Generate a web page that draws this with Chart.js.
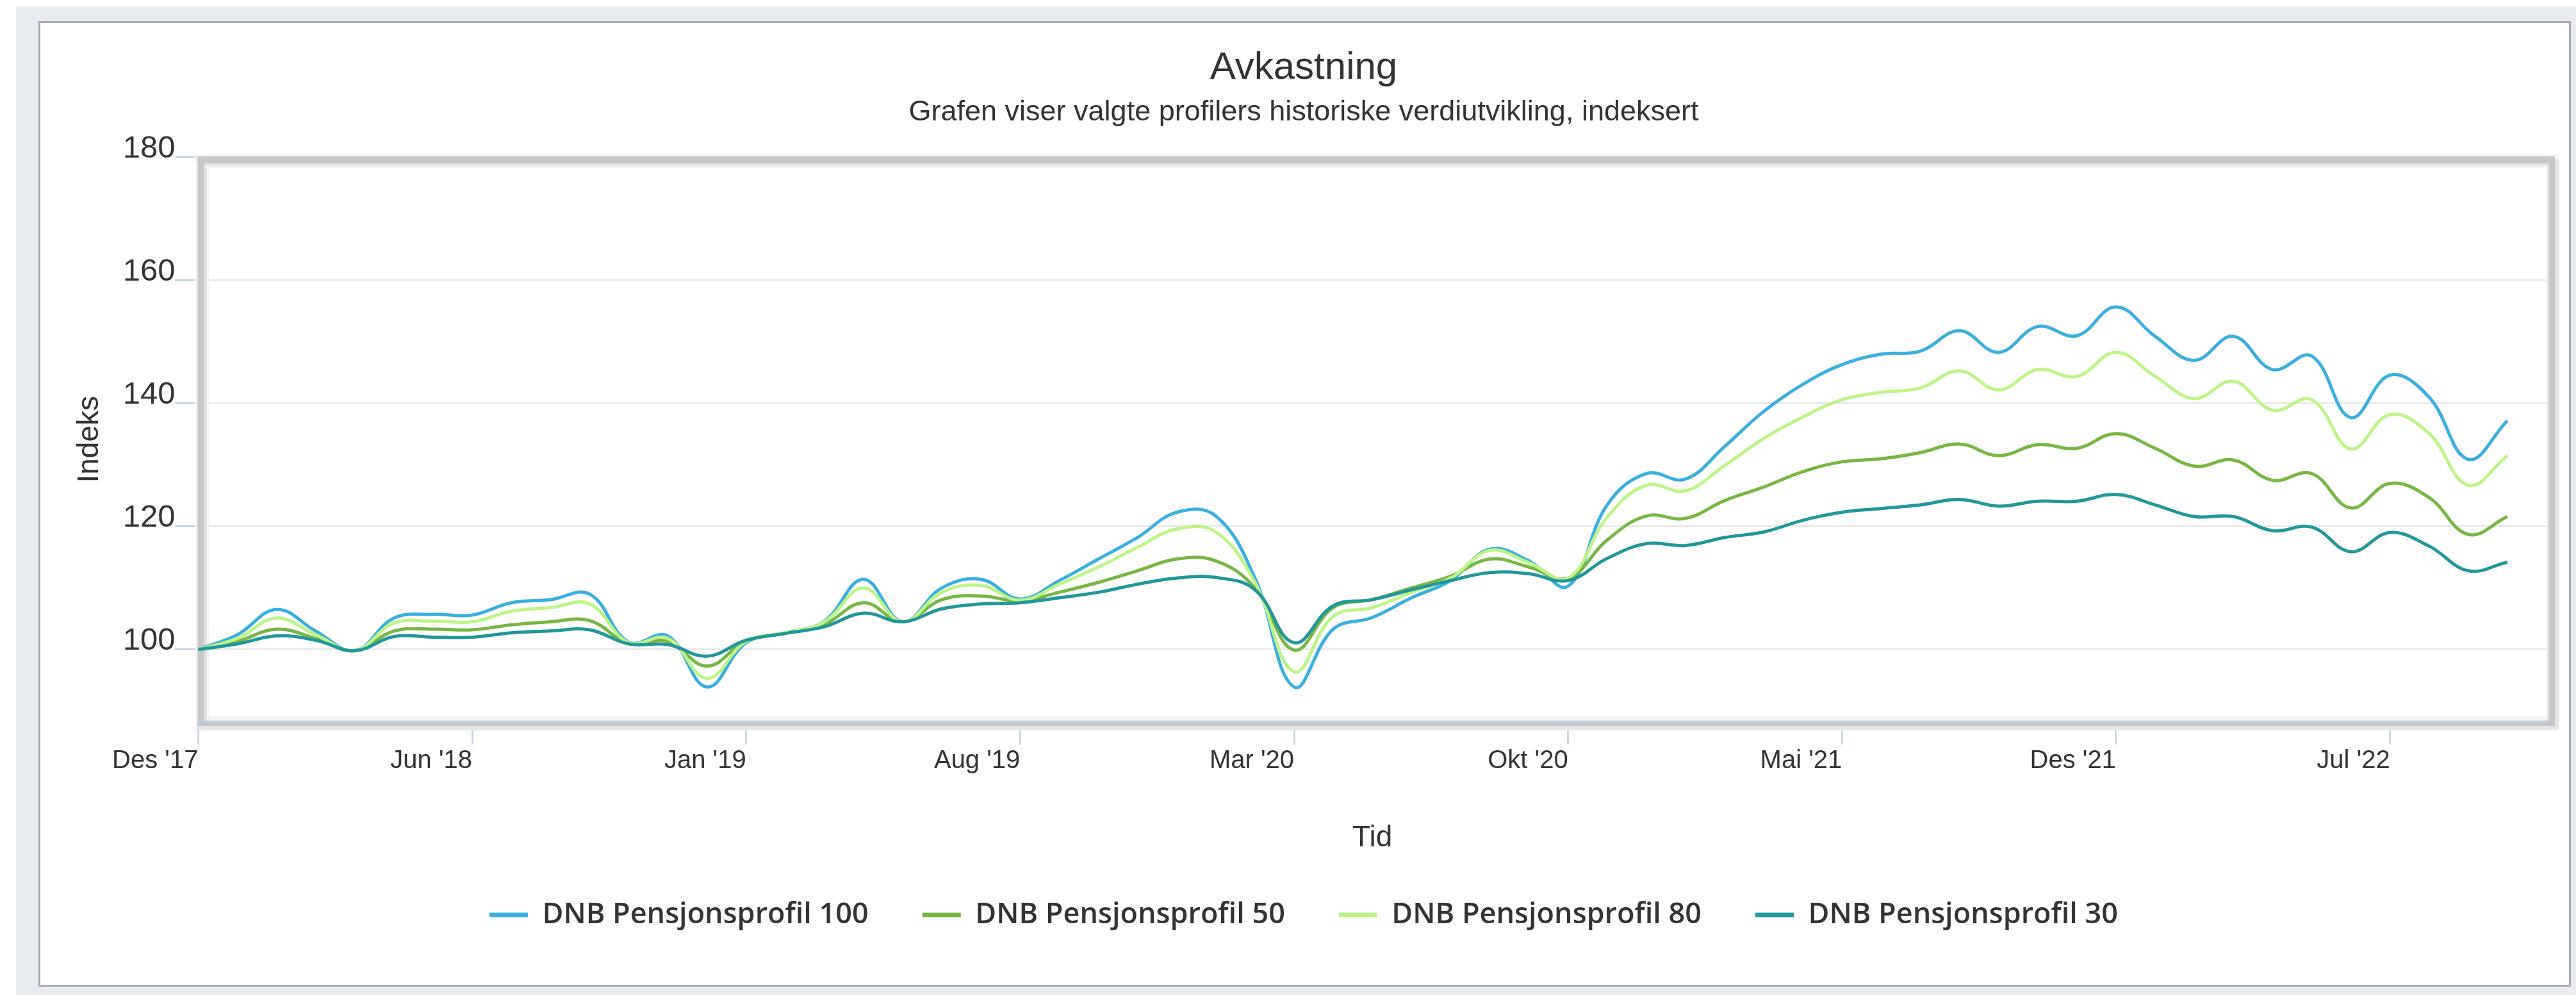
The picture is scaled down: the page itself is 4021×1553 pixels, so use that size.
<!DOCTYPE html>
<html><head><meta charset="utf-8">
<script src="https://cdn.jsdelivr.net/npm/chart.js@4.4.1/dist/chart.umd.min.js"></script>
<style>html,body{margin:0;padding:0;background:#fff;overflow:hidden}canvas{display:block}</style>
</head><body>
<canvas id="c" width="4021" height="1553"></canvas>
<script>
const categories = ["Des '17","Des '17","Jan '18","Feb '18","Mar '18","Apr '18","Mai '18","Jun '18","Jul '18","Aug '18","Sep '18","Okt '18","Nov '18","Des '18",
  "Jan '19","Feb '19","Mar '19","Apr '19","Mai '19","Jun '19","Jul '19","Aug '19","Sep '19","Okt '19","Nov '19","Des '19",
  "Jan '20","Feb '20","Mar '20","Apr '20","Mai '20","Jun '20","Jul '20","Aug '20","Sep '20","Okt '20","Nov '20","Des '20",
  "Jan '21","Feb '21","Mar '21","Apr '21","Mai '21","Jun '21","Jul '21","Aug '21","Sep '21","Okt '21","Nov '21","Des '21",
  "Jan '22","Feb '22","Mar '22","Apr '22","Mai '22","Jun '22","Jul '22","Aug '22","Sep '22","Okt '22","Nov '22"];
const seriesNames = ['DNB Pensjonsprofil 100','DNB Pensjonsprofil 50','DNB Pensjonsprofil 80','DNB Pensjonsprofil 30'];
const seriesColors = ['#3aafdf','#76b743','#bdf487','#22979b'];
const profil100 = [100,102.4,106.5,103.0,99.8,105.1,105.7,105.6,107.6,108.1,
  109.0,101.2,102.2,93.9,101.1,102.7,104.6,111.4,104.5,110.0,
  111.4,108.2,111.2,114.7,118.2,122.3,121.7,111.6,93.9,103.3,
  105.2,108.4,111.2,116.3,114.4,110.3,123.5,128.6,127.7,133.0,
  138.7,143.1,146.3,148.0,148.5,151.8,148.3,152.5,151.0,155.7,
  150.9,147.0,150.9,145.5,147.7,137.7,144.6,141.0,130.9,137.2];
const profil50 = [100,101.3,103.3,101.8,99.8,103.0,103.3,103.2,104.0,104.5,
  104.7,101.0,101.3,97.3,101.4,102.7,104.1,107.6,104.5,108.1,
  108.7,107.9,109.3,110.9,112.8,114.7,114.4,110.0,99.9,106.8,
  108.1,110.0,111.9,114.7,113.4,111.6,117.8,121.7,121.3,124.2,
  126.4,128.9,130.5,131.0,132.0,133.4,131.5,133.3,132.7,135.1,
  132.7,129.8,130.8,127.5,128.6,123.0,127.0,124.7,118.7,121.6];
const profil80 = [100,101.8,105.1,102.4,99.8,104.3,104.6,104.5,106.2,106.8,
  107.4,101.1,101.8,95.3,101.3,102.7,104.5,110.0,104.5,109.3,
  110.4,108.0,110.6,113.4,116.6,119.6,119.1,110.9,96.4,105.4,
  106.8,109.3,111.6,116.1,114.1,111.6,121.5,126.7,125.8,129.9,
  134.3,137.8,140.6,141.8,142.5,145.3,142.2,145.5,144.4,148.3,
  144.4,140.8,143.6,138.9,140.6,132.6,138.2,135.1,126.7,131.5];
const profil30 = [100,100.9,102.2,101.5,99.8,102.1,102.0,102.0,102.7,103.0,
  103.2,100.9,100.8,98.9,101.5,102.6,103.7,105.9,104.5,106.6,
  107.4,107.6,108.4,109.3,110.6,111.6,111.7,109.7,101.1,107.1,
  108.1,109.7,111.2,112.5,112.3,111.2,114.8,117.2,116.9,118.2,
  119.1,121.0,122.3,122.9,123.5,124.4,123.3,124.1,124.1,125.2,
  123.5,121.6,121.6,119.3,119.9,115.9,119.0,116.8,112.8,114.2];
const yTicks = [100,120,140,160,180];
const xTickEvery = 7;

const seriesData = [profil100, profil50, profil80, profil30];
const drawOrder = [3, 2, 1, 0];

const pageBg = {
  id: 'pageBg',
  beforeDraw(chart) {
    const ctx = chart.ctx, W = chart.width, H = chart.height;
    ctx.save();
    ctx.fillStyle = '#ffffff'; ctx.fillRect(0, 0, W, H);
    ctx.fillStyle = '#e8ebef'; ctx.fillRect(25, 10, W - 25, H - 10);
    ctx.fillStyle = '#ffffff'; ctx.fillRect(60, 33, 4013 - 60, 1540 - 33);
    ctx.strokeStyle = '#ababab'; ctx.lineWidth = 3;
    ctx.strokeRect(61.5, 34.5, 3950, 1504);
    ctx.restore();
  }
};

const plotFrame = {
  id: 'plotFrame',
  beforeDatasetsDraw(chart) {
    const ctx = chart.ctx;
    const {left: L, top: T, right: R, bottom: B} = chart.chartArea;
    ctx.save();
    // outer faint halo
    ctx.fillStyle = '#f4f4f4';
    ctx.fillRect(L - 5, T - 5, R + 20 - (L - 5), 4);
    ctx.fillRect(L - 5, T - 5, 4, B + 14 - (T - 5));
    // shadow right / bottom
    ctx.fillStyle = '#e6e6e6';
    ctx.fillRect(R + 13, T + 2, 7, B + 14 - (T + 2));
    ctx.fillRect(L + 2, B + 7, R + 20 - (L + 2), 7);
    // main gray band
    ctx.fillStyle = '#c8c8c8';
    ctx.fillRect(L - 1, T - 1.5, R + 13 - (L - 1), 11);
    ctx.fillRect(L - 1, T - 1.5, 11, B + 7 - (T - 1.5));
    ctx.fillRect(R + 4, T - 1.5, 9, B + 7 - (T - 1.5));
    ctx.fillRect(L - 1, B + 2, R + 13 - (L - 1), 5);
    // inner lighter band
    ctx.fillStyle = '#e4e4e4';
    ctx.fillRect(L + 10, T + 9.5, R + 4 - (L + 10), 4);
    ctx.fillRect(L + 10, T + 9.5, 4, B - 2 - (T + 9.5));
    ctx.fillRect(R + 1, T + 9.5, 3, B - 2 - (T + 9.5));
    ctx.fillStyle = '#f3f3f3';
    ctx.fillRect(L + 14, T + 13.5, R + 1 - (L + 14), 3);
    ctx.fillRect(L + 14, T + 13.5, 3, B - 2 - (T + 13.5));
    ctx.fillRect(L + 14, B - 8, R + 1 - (L + 14), 6);
    // x axis line
    ctx.fillStyle = '#c0d0e0';
    ctx.fillRect(L - 1, B - 1.5, R + 4 - (L - 1), 3.5);
    ctx.restore();
  }
};

function build() {
  const ctx = document.getElementById('c').getContext('2d');
  new Chart(ctx, {
    type: 'line',
    data: {
      labels: categories,
      datasets: seriesNames.map((name, i) => ({
        label: name,
        data: seriesData[i],
        borderColor: seriesColors[i],
        backgroundColor: seriesColors[i],
        borderWidth: 5,
        pointRadius: 0,
        pointHoverRadius: 0,
        tension: 0.4,
        fill: false,
        order: drawOrder[i]
      }))
    },
    plugins: [pageBg, plotFrame],
    options: {
      responsive: false,
      animation: false,
      devicePixelRatio: 1,
      events: [],
      layout: { padding: { top: 40, left: 95, right: 46, bottom: 92.5 } },
      plugins: {
        tooltip: { enabled: false },
        title: {
          display: true, text: 'Avkastning', color: '#333333',
          font: { family: 'Liberation Sans', size: 60, weight: 'normal', lineHeight: 1.2 },
          padding: { top: 30, bottom: 0 }
        },
        subtitle: {
          display: true, text: 'Grafen viser valgte profilers historiske verdiutvikling, indeksert', color: '#333333',
          font: { family: 'Liberation Sans', size: 45, weight: 'normal', lineHeight: 1.2 },
          padding: { top: 6.1, bottom: 43.5 }
        },
        legend: {
          display: true, position: 'bottom', align: 'center',
          labels: {
            color: '#333333',
            font: { family: 'Open Sans', size: 45, weight: '600' },
            boxWidth: 60, boxHeight: 7, padding: 84,
            generateLabels(chart) {
              return chart.data.datasets.map((ds, i) => ({
                text: ds.label, fillStyle: ds.borderColor, strokeStyle: ds.borderColor,
                lineWidth: 0, hidden: false, datasetIndex: i, fontColor: '#333333'
              }));
            }
          }
        }
      },
      scales: {
        x: {
          type: 'category',
          offset: false,
          grid: { display: true, drawOnChartArea: false, drawTicks: true, tickLength: 36, tickColor: '#c0d0e0', tickWidth: 2.5 },
          border: { display: false },
          ticks: {
            autoSkip: false, maxRotation: 0, minRotation: 0, align: 'end', padding: 2,
            color: '#333333', font: { family: 'Liberation Sans', size: 40, lineHeight: 1.2 }
          },
          title: {
            display: true, text: 'Tid', color: '#333333',
            font: { family: 'Liberation Sans', size: 46, lineHeight: 1.2 },
            padding: { top: 0, bottom: -14 }
          },
          afterBuildTicks: s => { s.ticks = s.ticks.filter(t => t.value % xTickEvery === 0); },
          afterFit: s => { s.height = 195.5; }
        },
        y: {
          type: 'linear', min: 88.3, max: 180,
          grid: { color: '#e6e6e6', lineWidth: 2.5, drawTicks: true, tickLength: 36, tickColor: '#c0d0e0', tickWidth: 2.5 },
          border: { display: false },
          ticks: { padding: 0, labelOffset: -13, color: '#333333', font: { family: 'Liberation Sans', size: 49 } },
          title: {
            display: true, text: 'Indeks', color: '#333333',
            font: { family: 'Liberation Sans', size: 46, lineHeight: 1.2 },
            padding: { top: 17.4, bottom: 0 }
          },
          afterBuildTicks: s => { s.ticks = yTicks.map(v => ({ value: v })); },
          afterFit: s => { s.width = 214.4; }
        }
      }
    }
  });
}
if (document.fonts && document.fonts.load) {
  Promise.all([
    document.fonts.load('60px "Liberation Sans"'),
    document.fonts.load('600 45px "Open Sans"')
  ]).then(build, build);
} else { build(); }
</script>
</body></html>
